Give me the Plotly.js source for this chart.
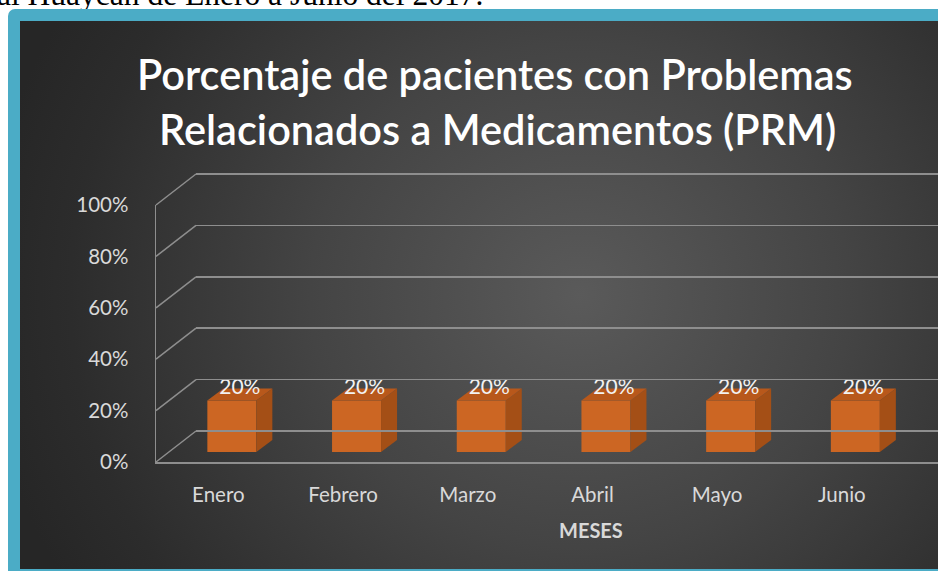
<!DOCTYPE html>
<html>
<head>
<meta charset="utf-8">
<script src="https://cdn.plot.ly/plotly-3.0.1.min.js"></script>
<style>
  html, body { margin:0; padding:0; background:#ffffff; width:938px; height:571px; overflow:hidden; position:relative; }
  #topline { position:absolute; left:-3px; top:-21px; font-family:"Liberation Serif","DejaVu Serif",serif; font-size:31.5px; line-height:31.5px; color:#000; white-space:nowrap; }
  #frame { position:absolute; left:8px; top:9px; width:944px; height:570px; background:#4bacc6; border-radius:7px; }
  #panel { position:absolute; left:20px; top:21px; width:918px; height:548px;
           background: radial-gradient(ellipse 600px 560px at 61% 50%, #5a5a5a 0%, #444444 45%, #2c2c2c 85%, #262626 100%); }
  #chart { position:absolute; left:0; top:0; width:938px; height:571px; }
</style>
</head>
<body>
<div id="topline">al Huaycan de Enero a Junio del 2017.</div>
<div id="frame"></div>
<div id="panel"></div>
<div id="chart"></div>
<script>
// ---- data ----
const months = ["Enero", "Febrero", "Marzo", "Abril", "Mayo", "Junio"];
const values = [0.20, 0.20, 0.20, 0.20, 0.20, 0.20];
const yTicks = [0, 0.2, 0.4, 0.6, 0.8, 1.0];
const titleLines = ["Porcentaje de pacientes con Problemas", "Relacionados a Medicamentos (PRM)"];
const xTitle = "MESES";

// ---- geometry (pixels) ----
const W = 938, H = 571;
const fx = px => px / W;
const fy = py => 1 - py / H;
const X0 = 156, CAT = 124.7, Y0 = 462, Y1 = 205, S = Y0 - Y1;
const PAD = 4;
const BACK = {dx: 40, dy: -31};
const MID = {dx: 13.5, dy: -10};
const DEPTH = {dx: 16, dy: 12};
const BARW = 0.393;

function plane(d, pad) {
  return {
    xdomain: [fx(X0 + d.dx), 1],
    xrange: [-0.5, -0.5 + (W - X0 - d.dx) / CAT],
    ydomain: [fy(Y0 + d.dy + pad), fy(Y1 + d.dy - pad)],
    yrange: [-pad / S, 1 + pad / S]
  };
}
const front = plane({dx: 0, dy: 0}, 0);
const mid = plane(MID, 0);
const back = plane(BACK, PAD);

const idx = months.map((m, i) => i);
const dxu = DEPTH.dx / CAT;
const dyu = DEPTH.dy / S;

const txtFont = "Lato, 'Open Sans', sans-serif";
const traces = [];

// invisible trace to activate the front axes
traces.push({type: "scatter", mode: "lines", x: [0], y: [0], xaxis: "x", yaxis: "y",
  line: {width: 0}, hoverinfo: "skip", showlegend: false});
// invisible trace to activate the back-wall axes
traces.push({type: "scatter", mode: "lines", x: [0], y: [0], xaxis: "x3", yaxis: "y3",
  line: {width: 0}, hoverinfo: "skip", showlegend: false});

// front faces
traces.push({
  type: "bar", x: idx, y: values, xaxis: "x2", yaxis: "y2",
  width: BARW, marker: {color: "#cc6623", line: {width: 0}},
  hoverinfo: "skip", showlegend: false
});
// side + top faces
values.forEach((v, i) => {
  const r = i + BARW / 2, l = i - BARW / 2;
  traces.push({
    type: "scatter", mode: "lines", xaxis: "x2", yaxis: "y2",
    x: [r, r + dxu, r + dxu, r, r], y: [0, dyu, v + dyu, v, 0],
    fill: "toself", fillcolor: "#a44f16", line: {width: 0}, hoverinfo: "skip", showlegend: false
  });
  traces.push({
    type: "scatter", mode: "lines", xaxis: "x2", yaxis: "y2",
    x: [l, r, r + dxu, l + dxu, l], y: [v, v, v + dyu, v + dyu, v],
    fill: "toself", fillcolor: "#b8581b", line: {width: 0}, hoverinfo: "skip", showlegend: false
  });
});
// data labels
traces.push({
  type: "scatter", mode: "text", xaxis: "x2", yaxis: "y2",
  x: idx.map(i => i + dxu / 2), y: values.map(v => v + dyu),
  text: values.map(v => Math.round(v * 100) + "%"),
  textposition: "middle center",
  textfont: {family: txtFont, size: 21, color: "#f2f2f2"},
  hoverinfo: "skip", showlegend: false
});

const gridColor = "#8e8e8e";
const shapes = yTicks.map(t => {
  const py = Y0 - t * S;
  return {type: "line", xref: "paper", yref: "paper",
    x0: fx(X0), y0: fy(py), x1: fx(X0 + BACK.dx), y1: fy(py + BACK.dy),
    line: {color: gridColor, width: 1.5}};
});

const layout = {
  width: W, height: H,
  margin: {l: 0, r: 0, t: 0, b: 0},
  paper_bgcolor: "rgba(0,0,0,0)", plot_bgcolor: "rgba(0,0,0,0)",
  showlegend: false,
  xaxis: {domain: front.xdomain, range: front.xrange, tickvals: idx, ticktext: months,
    showgrid: false, zeroline: false, showline: true, linecolor: gridColor, linewidth: 1.5,
    ticks: "", ticklabelstandoff: 14, tickfont: {family: txtFont, size: 20.5, color: "#d9d9d9"},
    anchor: "y", fixedrange: true},
  yaxis: {domain: front.ydomain, range: front.yrange, tickvals: yTicks, tickformat: ".0%",
    showgrid: false, zeroline: false, showline: true, linecolor: gridColor, linewidth: 1.5,
    ticks: "", ticklabelstandoff: 22, tickfont: {family: txtFont, size: 20.5, color: "#d9d9d9"},
    anchor: "x", fixedrange: true},
  xaxis2: {domain: mid.xdomain, range: mid.xrange, visible: false, anchor: "y2", fixedrange: true},
  yaxis2: {domain: mid.ydomain, range: mid.yrange, visible: false, anchor: "x2", fixedrange: true},
  xaxis3: {domain: back.xdomain, range: back.xrange, visible: false, anchor: "y3", fixedrange: true},
  yaxis3: {domain: back.ydomain, range: back.yrange, tickvals: yTicks, showticklabels: false,
    showgrid: true, gridcolor: gridColor, gridwidth: 1.5, zeroline: false, showline: false,
    ticks: "", anchor: "x3", fixedrange: true},
  shapes: shapes,
  annotations: [
    {text: titleLines[0], xref: "paper", yref: "paper", x: fx(495), y: fy(74),
      xanchor: "center", yanchor: "middle", showarrow: false,
      font: {family: txtFont, size: 41.5, color: "#ffffff", weight: 600}},
    {text: titleLines[1], xref: "paper", yref: "paper", x: fx(497), y: fy(129),
      xanchor: "center", yanchor: "middle", showarrow: false,
      font: {family: txtFont, size: 41.5, color: "#ffffff", weight: 600}},
    {text: xTitle, xref: "paper", yref: "paper", x: fx(591), y: fy(530),
      xanchor: "center", yanchor: "middle", showarrow: false,
      font: {family: txtFont, size: 20, color: "#d9d9d9", weight: "bold"}}
  ]
};

Plotly.newPlot("chart", traces, layout, {displayModeBar: false, staticPlot: true});
</script>
</body>
</html>
